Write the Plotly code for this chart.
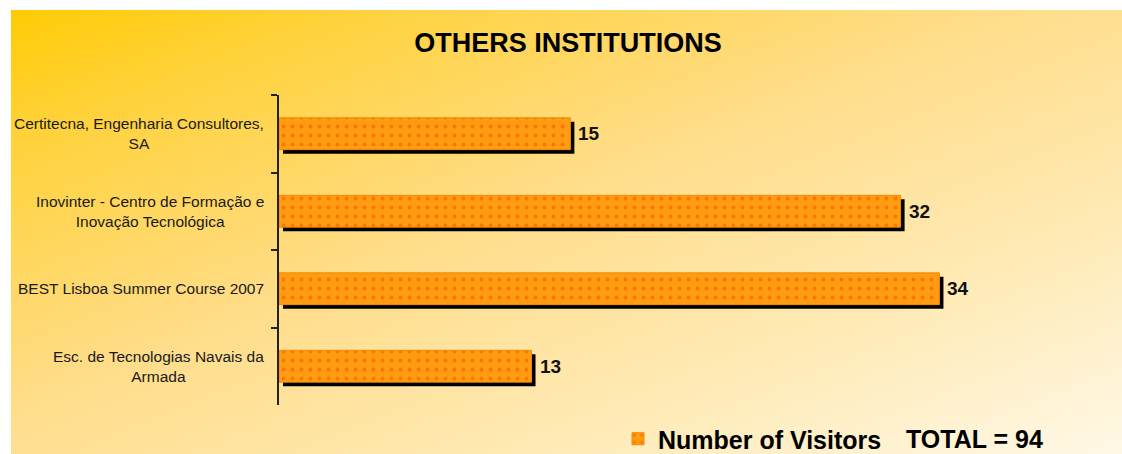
import base64
import plotly.graph_objects as go

# ---- data ----
categories = [
    "Certitecna, Engenharia Consultores,<br>SA",
    "Inovinter - Centro de Formação e<br>Inovação Tecnológica",
    "BEST Lisboa Summer Course 2007",
    "Esc. de Tecnologias Navais da<br>Armada",
]
visitors = [15, 32, 34, 13]
series_name = "Number of Visitors"
title_text = "OTHERS INSTITUTIONS"

# ---- geometry (pixels) ----
W, H = 1122, 454
PX_L, PX_R = 279, 1056      # plot area x
PX_T, PX_B = 95, 405        # plot area y
SH = 4                      # shadow offset
LEG_Y = 439
FONT = "Arial, Liberation Sans, sans-serif"

def fx(px):
    return px / W

def fy(py):
    return 1 - py / H

# gradient background as svg
svg = f'''<svg xmlns="http://www.w3.org/2000/svg" width="1111" height="444" preserveAspectRatio="none">
<defs><linearGradient id="g" x1="0" y1="0" x2="1" y2="1">
<stop offset="0" stop-color="#FFCB05"/>
<stop offset="0.15" stop-color="#FFD23A"/>
<stop offset="0.45" stop-color="#FFDD8A"/>
<stop offset="0.75" stop-color="#FFEBB8"/>
<stop offset="1" stop-color="#FFF8E6"/>
</linearGradient></defs>
<rect width="1111" height="444" fill="url(#g)"/></svg>'''
bg_src = "data:image/svg+xml;base64," + base64.b64encode(svg.encode()).decode()

fig = go.Figure()

# shadow bars (drawn first, behind)
fig.add_trace(go.Bar(
    x=visitors, y=categories, orientation="h",
    xaxis="x", yaxis="y",
    width=0.41,
    marker=dict(color="#000000", line=dict(width=0)),
    showlegend=False, hoverinfo="skip",
))

# main bars
fig.add_trace(go.Bar(
    x=visitors, y=categories, orientation="h",
    xaxis="x2", yaxis="y2",
    width=0.41,
    name=series_name,
    marker=dict(
        color="#FF9900",
        line=dict(color="#F08A00", width=1),
        pattern=dict(shape=".", fgcolor="#FF7400", bgcolor="#FF9C12",
                     size=9, solidity=0.14, fillmode="replace"),
    ),
))

axis_common = dict(showgrid=False, zeroline=False)
fig.update_layout(
    width=W, height=H, autosize=False,
    margin=dict(l=0, r=0, t=0, b=0, pad=0, autoexpand=False),
    paper_bgcolor="white", plot_bgcolor="rgba(0,0,0,0)",
    barmode="overlay",
    font=dict(family=FONT, color="#111111"),
    xaxis=dict(domain=[fx(PX_L + SH), fx(PX_R + SH)], range=[0, 40], anchor="y",
               visible=False, **axis_common),
    yaxis=dict(domain=[fy(PX_B + SH), fy(PX_T + SH)], range=[3.5, -0.5], anchor="x",
               type="category", categoryorder="array", categoryarray=categories,
               visible=False, **axis_common),
    xaxis2=dict(domain=[fx(PX_L), fx(PX_R)], range=[0, 40], anchor="y2",
                visible=False, **axis_common),
    yaxis2=dict(domain=[fy(PX_B), fy(PX_T)], range=[3.5, -0.5], anchor="x2",
                type="category", categoryorder="array", categoryarray=categories,
                showline=True, linecolor="#222222", linewidth=2,
                ticks="outside", ticklen=6, tickwidth=1.5, tickcolor="#222222",
                tickson="boundaries", showticklabels=False, **axis_common),
    title=dict(text=title_text, xref="container", yref="container",
               x=fx(568), xanchor="center", y=fy(43), yanchor="middle",
               font=dict(family=FONT, size=27, color="#000000", weight="bold")),
    showlegend=True,
    legend=dict(orientation="h", x=fx(618), xanchor="left", y=fy(LEG_Y), yanchor="middle",
                bgcolor="rgba(0,0,0,0)", borderwidth=0,
                font=dict(family=FONT, size=25, color="#000000", weight="bold")),
    images=[dict(source=bg_src, xref="paper", yref="paper",
                 x=fx(11), y=fy(10), sizex=fx(W - 11), sizey=(H - 10) / H,
                 xanchor="left", yanchor="top", sizing="stretch", layer="below")],
)

annotations = []
# category labels
for cat in categories:
    annotations.append(dict(
        text=cat, xref="paper", yref="y2", x=fx(266), y=cat,
        xanchor="right", yanchor="middle", align="center", showarrow=False,
        font=dict(family=FONT, size=15.5, color="#1a1a1a"),
    ))
# value labels
for cat, v in zip(categories, visitors):
    annotations.append(dict(
        text=str(v), xref="x2", yref="y2", x=v, y=cat,
        xanchor="left", yanchor="middle", xshift=6, showarrow=False,
        font=dict(family=FONT, size=19, color="#111111", weight="bold"),
    ))
# total
annotations.append(dict(
    text=f"TOTAL = {sum(visitors)}", xref="paper", yref="paper",
    x=fx(904), y=fy(LEG_Y), xanchor="left", yanchor="middle", showarrow=False,
    font=dict(family=FONT, size=25, color="#000000", weight="bold"),
))
fig.update_layout(annotations=annotations)

fig.write_html("out.html", config={"displayModeBar": False},
               post_script="document.body.style.margin='0';document.body.style.padding='0';")
